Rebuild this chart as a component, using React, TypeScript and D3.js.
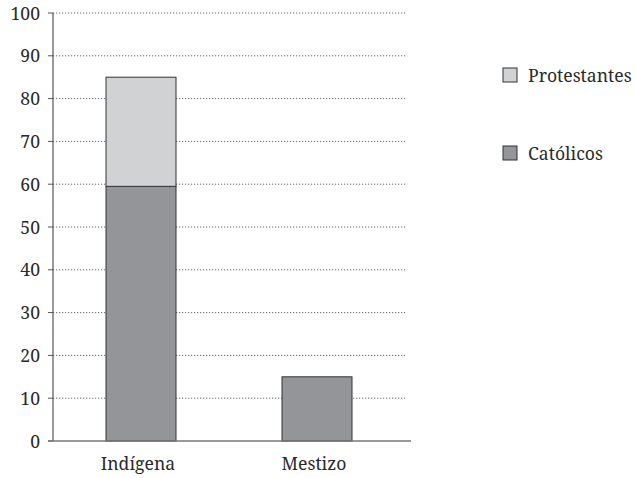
import React from "react";
import * as d3 from "d3";

const categories = ["Indígena", "Mestizo"];
const catolicos = [59.5, 15];
const protestantes = [25.5, 0];
const yTicks = [0, 10, 20, 30, 40, 50, 60, 70, 80, 90, 100];
const seriesNames = ["Protestantes", "Católicos"];

export default function App() {
  const W = 636, H = 478;
  const x0 = 53, x1 = 405;
  const y = d3.scaleLinear().domain([0, 100]).range([441, 13]);
  const x = d3.scalePoint().domain(categories).range([x0, x1]).padding(0.5);
  const bw = 70;
  const font = "Noto Serif, DejaVu Serif, Liberation Serif, Times New Roman, serif";
  const dark = "#939598";
  const light = "#d1d2d4";
  const ts = { fontFamily: font, fontSize: 17.6, fill: "#2a2a2a" } as React.CSSProperties;
  return (
    <svg width={W} height={H} style={{ position: "absolute", left: 0, top: 0 }}>
      <rect width={W} height={H} fill="#fff" />
      {yTicks.map((t) => (
        <g key={t}>
          {t > 0 && (
            <line x1={x0} x2={407} y1={y(t)} y2={y(t)} stroke="#666" strokeWidth={1} strokeDasharray="1.2,1.8" />
          )}
          <line x1={48} x2={x0} y1={y(t)} y2={y(t)} stroke="#555" strokeWidth={1} />
          <text x={40} y={y(t) + 6.5} textAnchor="end" style={ts}>
            {t}
          </text>
        </g>
      ))}
      {categories.map((c, i) => {
        const cx = x(c)!;
        return (
          <g key={c}>
            <rect x={cx - bw / 2} y={y(catolicos[i])} width={bw} height={y(0) - y(catolicos[i])} fill={dark} stroke="#333" strokeWidth={1} />
            {protestantes[i] > 0 && (
              <rect
                x={cx - bw / 2}
                y={y(catolicos[i] + protestantes[i])}
                width={bw}
                height={y(catolicos[i]) - y(catolicos[i] + protestantes[i])}
                fill={light}
                stroke="#333"
                strokeWidth={1}
              />
            )}
            <text x={cx - 3} y={470} textAnchor="middle" style={ts}>
              {c}
            </text>
          </g>
        );
      })}
      <line x1={x0} x2={x0} y1={y(100)} y2={y(0)} stroke="#555" strokeWidth={1.2} />
      <line x1={48} x2={411} y1={y(0)} y2={y(0)} stroke="#777" strokeWidth={1.5} />
      {seriesNames.map((s, i) => (
        <g key={s} transform={`translate(503, ${68 + i * 78})`}>
          <rect x={0} y={0} width={14} height={14} fill={i === 0 ? light : dark} stroke="#333" strokeWidth={1} />
          <text x={25} y={13.5} style={ts}>
            {s}
          </text>
        </g>
      ))}
    </svg>
  );
}
